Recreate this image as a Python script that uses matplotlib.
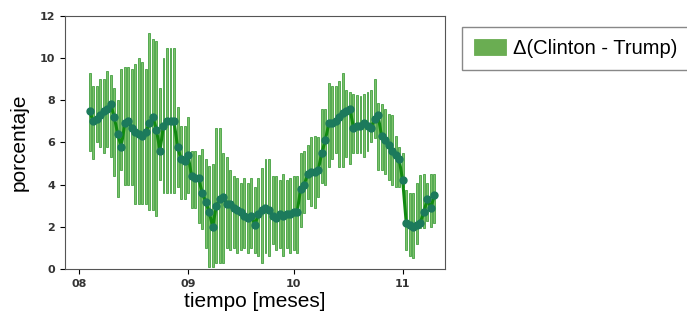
"""
Diferencia Clinton - Trump en las encuestas (agosto - noviembre 2016)
"""

import pandas as pd
import matplotlib
matplotlib.use('Agg')
import matplotlib.pyplot as plt
import matplotlib.dates as mdates

# Data
dias = pd.date_range('2016-08-04', '2016-11-10', freq='D')

centro = [7.5, 7.0, 7.1, 7.3, 7.5, 7.6, 7.8, 7.2, 6.4, 5.8,
          6.9, 7.0, 6.7, 6.5, 6.4, 6.3, 6.5, 6.9, 7.2, 6.6,
          5.6, 6.8, 7.0, 7.0, 7.0, 5.8, 5.2, 5.1, 5.4, 4.4,
          4.3, 4.3, 3.6, 3.2, 2.7, 2.0, 3.0, 3.3, 3.4, 3.1,
          3.1, 2.9, 2.8, 2.7, 2.5, 2.4, 2.5, 2.1, 2.6, 2.8,
          2.9, 2.8, 2.5, 2.4, 2.6, 2.5, 2.6, 2.6, 2.7, 2.7,
          3.8, 4.0, 4.5, 4.6, 4.6, 4.7, 5.5, 6.1, 6.9, 6.9,
          7.0, 7.2, 7.4, 7.5, 7.6, 6.7, 6.8, 6.8, 6.9, 6.8,
          6.7, 7.1, 7.3, 6.3, 6.1, 5.9, 5.6, 5.4, 5.2, 4.2,
          2.2, 2.1, 2.0, 2.1, 2.2, 2.7, 3.3, 2.9, 3.5]

minimo = [5.6, 5.2, 6.0, 5.8, 5.5, 5.8, 5.3, 4.4, 3.4, 4.7,
          4.0, 4.0, 4.0, 3.1, 3.1, 3.1, 3.1, 2.8, 2.8, 2.5,
          4.2, 3.6, 3.6, 3.6, 3.6, 3.9, 3.3, 3.3, 3.6, 2.9,
          2.9, 2.2, 1.9, 1.0, 0.1, 0.1, 0.3, 0.3, 0.3, 1.0,
          0.9, 1.0, 0.75, 0.9, 1.0, 0.75, 1.0, 0.75, 0.6, 0.3,
          0.75, 0.6, 1.2, 0.9, 1.0, 0.6, 1.0, 0.75, 0.9, 0.75,
          2.0, 2.65, 3.3, 3.0, 2.9, 3.4, 4.1, 4.0, 4.85, 5.2,
          5.5, 4.85, 4.85, 5.3, 5.0, 5.5, 5.5, 5.5, 5.3, 5.6,
          6.0, 6.2, 4.7, 4.7, 4.5, 4.2, 4.0, 3.9, 3.9, 3.9,
          0.9, 0.6, 0.5, 1.2, 1.95, 1.95, 2.3, 2.0, 2.2]

maximo = [9.3, 8.7, 8.7, 9.0, 9.0, 9.4, 9.2, 8.6, 8.0, 9.5,
          9.6, 9.6, 9.5, 9.7, 10.0, 9.8, 9.5, 11.2, 10.9, 10.8,
          8.6, 10.0, 10.5, 10.5, 10.5, 7.7, 6.8, 6.8, 7.2, 5.6,
          5.6, 5.4, 5.7, 5.2, 4.9, 5.0, 6.7, 6.7, 5.5, 5.3,
          4.7, 4.4, 4.3, 4.1, 4.3, 4.1, 4.3, 3.9, 4.3, 4.8,
          5.2, 5.2, 4.4, 4.4, 4.2, 4.5, 4.2, 4.3, 4.4, 4.4,
          5.5, 5.6, 5.9, 6.25, 6.3, 6.25, 7.6, 7.6, 8.8, 8.7,
          8.7, 8.9, 9.3, 8.5, 8.4, 8.3, 8.25, 8.2, 8.3, 8.4,
          8.5, 9.0, 7.85, 7.8, 7.6, 7.35, 7.3, 6.3, 5.8, 5.5,
          3.75, 3.6, 3.6, 4.1, 4.45, 4.5, 4.1, 4.5, 4.5]

alturas = [hi - lo for hi, lo in zip(maximo, minimo)]

# Create figure
fig = plt.figure(figsize=(6.87, 3.18), dpi=100)
ax = fig.add_axes([0.0946, 0.154, 0.553, 0.796])

ax.bar(dias, alturas, bottom=minimo, width=0.55,
       color='#7cc26a', edgecolor='#44a042', linewidth=0.6,
       label='Δ(Clinton - Trump)')
ax.plot(dias, centro, color='#118a11', linewidth=2.2,
        marker='o', markersize=5, markerfacecolor='#1c7a5c',
        markeredgecolor='#1c7a5c')

# Axes
ax.set_ylim(0, 12)
ax.set_yticks(range(0, 13, 2))
ax.set_xlim(pd.Timestamp('2016-07-28'), pd.Timestamp('2016-11-13'))
ax.xaxis.set_major_locator(mdates.MonthLocator())
ax.xaxis.set_major_formatter(mdates.DateFormatter('%m'))
for lbl in ax.get_xticklabels() + ax.get_yticklabels():
    lbl.set_fontweight('bold')
    lbl.set_fontsize(8)
    lbl.set_color('#333333')
for s in ax.spines.values():
    s.set_color('#555555')

ax.set_xlabel('tiempo [meses]', fontsize=15, family='Liberation Sans', labelpad=2)
ax.set_ylabel('porcentaje', fontsize=15, family='Liberation Sans', labelpad=8)

# Legend outside, on the right
leg = fig.legend(loc='upper left', bbox_to_anchor=(0.672, 0.915),
                 prop={'family': 'Liberation Sans', 'size': 14.5},
                 fancybox=False, edgecolor='#888888', framealpha=1,
                 handlelength=1.6, handleheight=0.8, handletextpad=0.35,
                 borderpad=0.6, borderaxespad=0)
leg.get_frame().set_linewidth(1.0)
for h in leg.legend_handles:
    h.set_facecolor('#6aad52')
    h.set_edgecolor('#6aad52')

fig.savefig('out.png', dpi=100)
